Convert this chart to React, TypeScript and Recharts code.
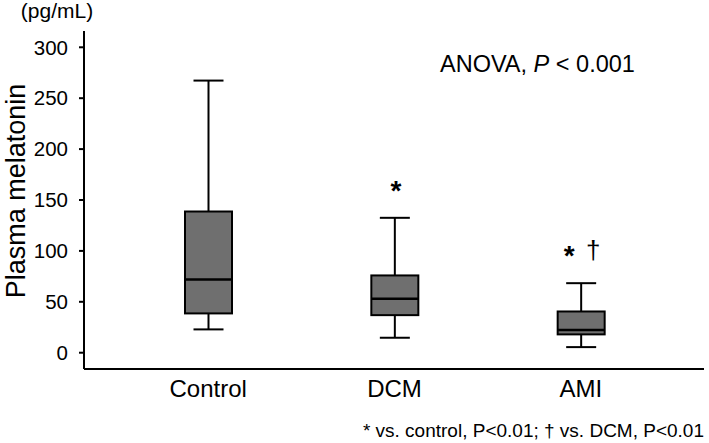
import { BarChart, Bar, XAxis, YAxis } from "recharts";

// Box plot values (pg/mL)
const GROUPS = ["Control", "DCM", "AMI"];
const MINS = [22.9, 14.7, 5.5];
const Q1S = [38.6, 36.9, 18.0];
const MEDIANS = [72.0, 53.0, 22.2];
const Q3S = [138.7, 75.9, 40.5];
const MAXS = [267.3, 132.5, 68.3];
const MARKS = ["", "*", "*†"];
const Y_TICKS = [0, 50, 100, 150, 200, 250, 300];

const FONT = "'Liberation Sans', Arial, Helvetica, sans-serif";
const BOX_FILL = "#6f6f6f";

const data = GROUPS.map((name, i) => ({
  name,
  range: [MINS[i], MAXS[i]],
  min: MINS[i],
  q1: Q1S[i],
  median: MEDIANS[i],
  q3: Q3S[i],
  max: MAXS[i],
  mark: MARKS[i],
}));

// The bar spans min..max, so its geometry gives the y scale for the other stats.
function BoxShape(props: any) {
  const { x, y, width, height, index } = props;
  const d = props.payload && props.payload.q1 !== undefined ? props.payload : data[index];
  const top = Math.min(y, y + height);
  const bottom = Math.max(y, y + height);
  const py = (v: number) => bottom - ((v - d.min) / (d.max - d.min)) * (bottom - top);
  const cx = x + width / 2;
  const cap = 15;
  const yMin = py(d.min);
  const yQ1 = py(d.q1);
  const yMed = py(d.median);
  const yQ3 = py(d.q3);
  const yMax = py(d.max);
  const markY = yMax - 18;
  return (
    <g>
      <line x1={cx} x2={cx} y1={yMax} y2={yQ3} stroke="#000" strokeWidth={2} />
      <line x1={cx} x2={cx} y1={yQ1} y2={yMin} stroke="#000" strokeWidth={2} />
      <line x1={cx - cap} x2={cx + cap} y1={yMax} y2={yMax} stroke="#000" strokeWidth={2} />
      <line x1={cx - cap} x2={cx + cap} y1={yMin} y2={yMin} stroke="#000" strokeWidth={2} />
      <rect
        x={x}
        y={yQ3}
        width={width}
        height={yQ1 - yQ3}
        fill={BOX_FILL}
        stroke="#000"
        strokeWidth={2}
      />
      <line x1={x} x2={x + width} y1={yMed} y2={yMed} stroke="#000" strokeWidth={2.5} />
      {d.mark === "*" && (
        <text x={cx + 1} y={markY} textAnchor="middle" fontSize={28} fontWeight="bold" fontFamily={FONT}>
          *
        </text>
      )}
      {d.mark === "*†" && (
        <g>
          <text x={cx - 12} y={markY} textAnchor="middle" fontSize={28} fontWeight="bold" fontFamily={FONT}>
            *
          </text>
          <text x={cx + 12} y={markY - 6} textAnchor="middle" fontSize={26} fontFamily={FONT}>
            †
          </text>
        </g>
      )}
    </g>
  );
}

export default function App() {
  return (
    <div style={{ position: "absolute", left: 0, top: 0, width: 709, height: 443, background: "#fff" }}>
      <BarChart
        width={709}
        height={443}
        data={data}
        margin={{ top: 31, right: 5, bottom: 0, left: 0 }}
      >
        <XAxis
          dataKey="name"
          padding={{ left: 31, right: 30 }}
          axisLine={{ stroke: "#000", strokeWidth: 2 }}
          tickLine={false}
          tickSize={0}
          tickMargin={11}
          height={74}
          tick={{ fill: "#000", fontSize: 24, fontFamily: FONT }}
        />
        <YAxis
          type="number"
          domain={[-16, 316]}
          ticks={Y_TICKS}
          width={84}
          axisLine={{ stroke: "#000", strokeWidth: 2 }}
          tickLine={{ stroke: "#000", strokeWidth: 2 }}
          tickSize={5}
          tickMargin={11}
          tick={{ fill: "#000", fontSize: 20.5, fontFamily: FONT }}
        />
        <Bar dataKey="range" barSize={47} shape={<BoxShape />} isAnimationActive={false} />
      </BarChart>
      <svg
        width={709}
        height={443}
        style={{ position: "absolute", left: 0, top: 0, pointerEvents: "none" }}
        fontFamily={FONT}
      >
        <text x={57} y={18} textAnchor="middle" fontSize={21} fill="#000">
          (pg/mL)
        </text>
        <text
          transform="translate(25,191) rotate(-90)"
          textAnchor="middle"
          fontSize={27}
          fill="#000"
        >
          Plasma melatonin
        </text>
        <text x={440} y={72} fontSize={23.5} fill="#000">
          ANOVA, <tspan fontStyle="italic">P</tspan> {"< 0.001"}
        </text>
        <text x={704} y={437} textAnchor="end" fontSize={19} fill="#000">
          * vs. control, P&lt;0.01; † vs. DCM, P&lt;0.01
        </text>
      </svg>
    </div>
  );
}
